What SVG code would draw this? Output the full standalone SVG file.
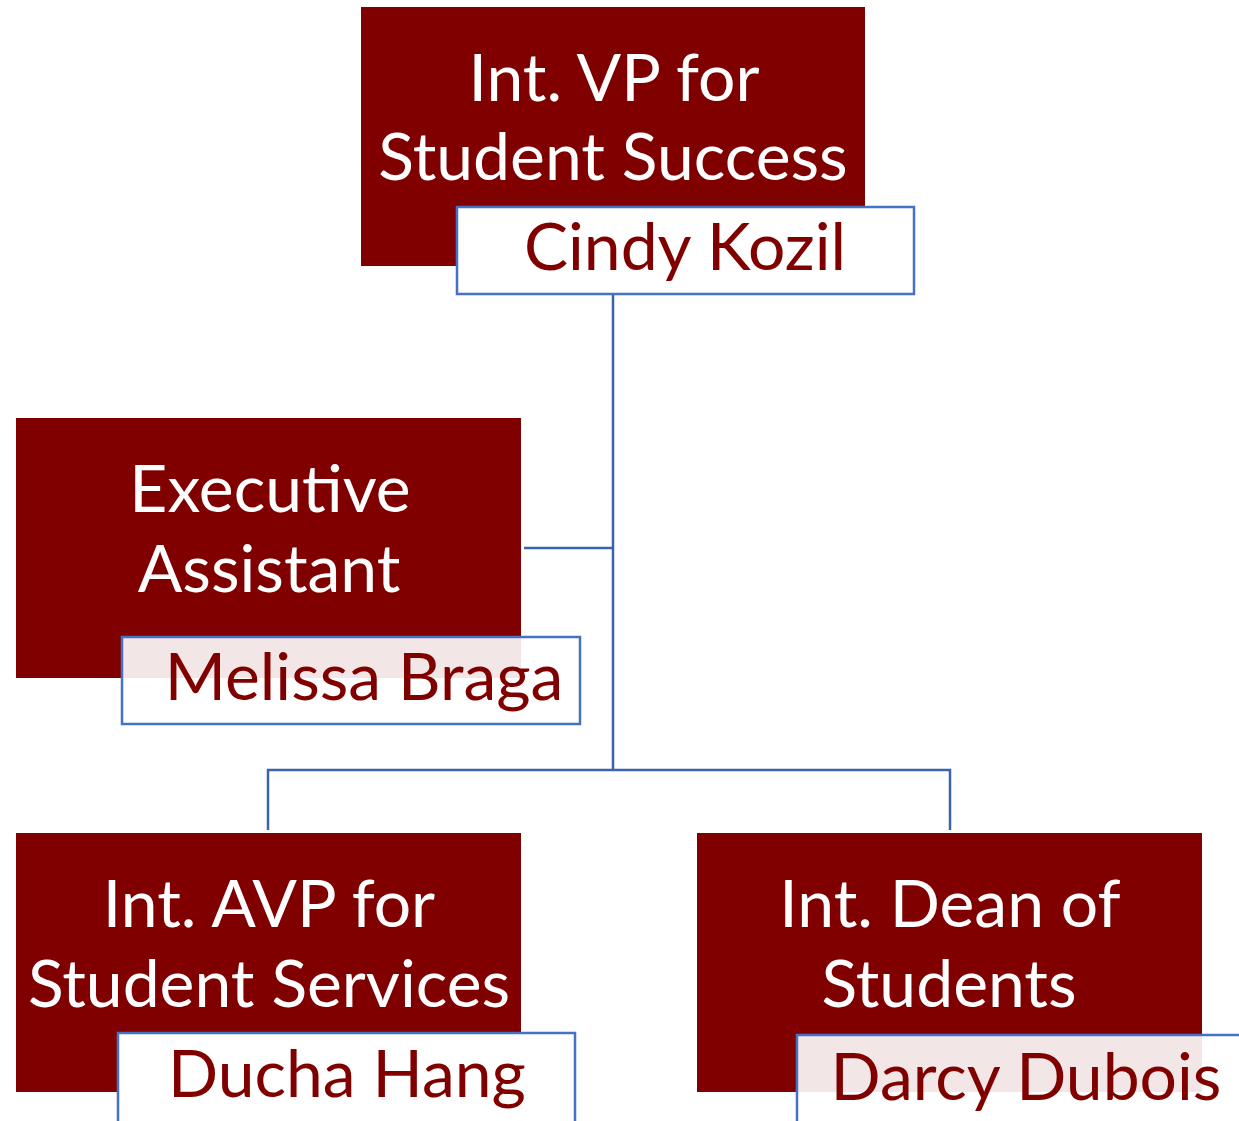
<svg xmlns="http://www.w3.org/2000/svg" width="1239" height="1121" viewBox="0 0 1239 1121">
<style>
.box{fill:#800000}
.name{stroke:#4472C4;stroke-width:2.5}
.opaque{fill:#ffffff}
.trans{fill:#ffffff;fill-opacity:0.9}
.title{font-family:Lato,"Open Sans",sans-serif;font-size:66px;fill:#ffffff;text-anchor:middle}
.nm{font-family:Lato,"Open Sans",sans-serif;font-size:66px;fill:#800000;text-anchor:middle}
.conn{stroke:#3C64AE;stroke-width:2.5;fill:none}
</style>
<rect width="1239" height="1121" fill="#ffffff"/>
<g id="connectors">
<path class="conn" d="M613 294 V770"/>
<path class="conn" d="M524 548 H613"/>
<path class="conn" d="M268 830 V770 H950 V830"/>
</g>
<g id="vp">
<rect class="box" x="361" y="7" width="504" height="259"/>
<text class="title" x="614" y="101">Int. VP for</text>
<text class="title" x="613" y="180">Student Success</text>
<rect class="name opaque" x="457" y="207" width="457" height="87"/>
<text class="nm" x="685" y="270">Cindy Kozil</text>
</g>
<g id="exec">
<rect class="box" x="16" y="418" width="505" height="260"/>
<text class="title" x="270" y="512">Executive</text>
<text class="title" x="269" y="592">Assistant</text>
<rect class="name trans" x="122" y="637" width="458" height="87"/>
<text class="nm" x="364" y="700">Melissa Braga</text>
</g>
<g id="avp">
<rect class="box" x="16" y="833" width="505" height="259"/>
<text class="title" x="269" y="927">Int. AVP for</text>
<text class="title" x="269" y="1007">Student Services</text>
<rect class="name opaque" x="118" y="1033" width="457" height="90"/>
<text class="nm" x="347" y="1097">Ducha Hang</text>
</g>
<g id="dean">
<rect class="box" x="697" y="833" width="505" height="259"/>
<text class="title" x="950" y="927">Int. Dean of</text>
<text class="title" x="949" y="1007">Students</text>
<rect class="name trans" x="797" y="1035" width="460" height="90"/>
<text class="nm" x="1026" y="1100">Darcy Dubois</text>
</g>
</svg>
